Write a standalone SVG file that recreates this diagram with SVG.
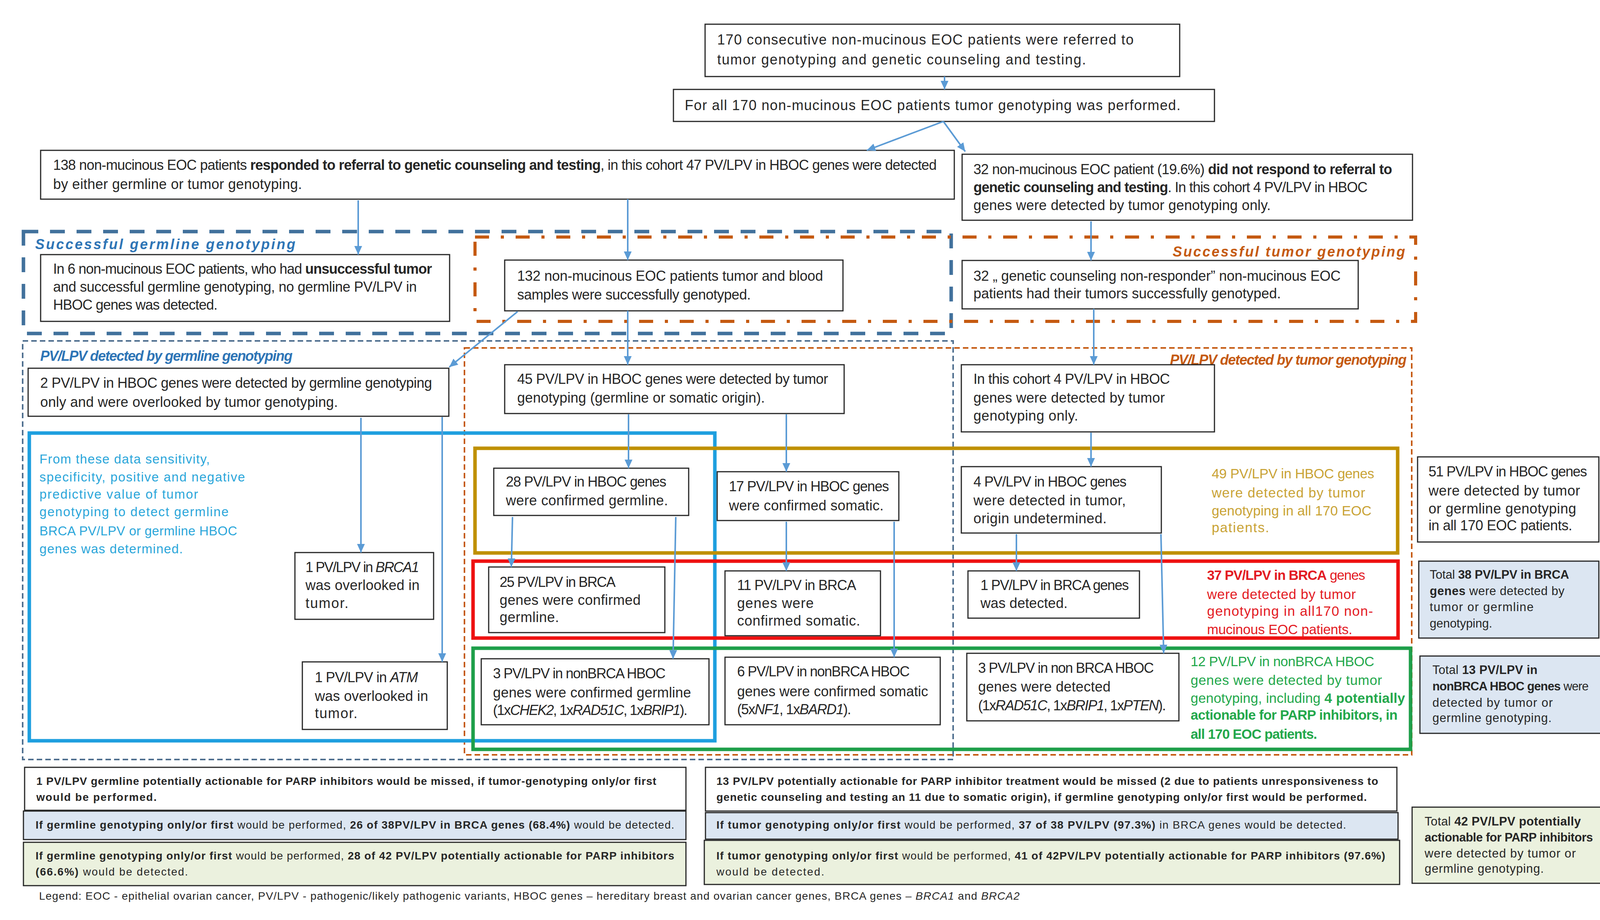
<svg xmlns="http://www.w3.org/2000/svg" width="4152" height="2356" viewBox="0 0 4152 2356">
<style>
text{font-family:"Liberation Sans",Arial,sans-serif;font-size:36px;fill:#262626}
.b{font-weight:bold}
.i{font-style:italic}
.s30{font-size:31px}
.s28{font-size:28px}
.box{fill:#fff;stroke:#262626;stroke-width:3}
.lb{fill:#DCE6F2;stroke:#262626;stroke-width:3}
.lg{fill:#EBF1DE;stroke:#262626;stroke-width:3}
.conn line{stroke:#5B9BD5;stroke-width:4;marker-end:url(#ah)}
.lblB{font-weight:bold;font-style:italic;fill:#2E75B6}
.lblO{font-weight:bold;font-style:italic;fill:#C55A11}
.cy{fill:#2AA6DA;font-size:33px}
.gd{fill:#C9A335;font-size:35px}
.rd{fill:#E31B23;font-size:35px}
.gr{fill:#23A84B;font-size:35px}
</style>
<defs>
<marker id="ah" markerUnits="userSpaceOnUse" markerWidth="24" markerHeight="20" refX="22" refY="10" orient="auto"><path d="M0,0 L22,10 L0,20 z" fill="#5B9BD5"/></marker>
</defs>
<rect width="4152" height="2356" fill="#fff"/>

<g id="regions">
<rect x="60" y="593" width="2375" height="261" fill="none" stroke="#41719C" stroke-width="9" stroke-dasharray="38 30"/>
<rect x="1216" y="607" width="2408" height="216" fill="none" stroke="#C55A11" stroke-width="8" stroke-dasharray="36 30 8 30"/>
<rect x="58" y="873" width="2382" height="1072" fill="none" stroke="#4F6F8F" stroke-width="4" stroke-dasharray="14 8"/>
<rect x="1189" y="891" width="2425" height="1042" fill="none" stroke="#C55A11" stroke-width="4" stroke-dasharray="14 8"/>
<text x="90" y="638" class="lblB" font-size="45" textLength="666">Successful germline genotyping</text>
<text x="3002" y="657" class="lblO" font-size="45" textLength="595">Successful tumor genotyping</text>
<text x="103" y="924" class="lblB" font-size="31" textLength="646">PV/LPV detected by germline genotyping</text>
<text x="2995" y="934" class="lblO" font-size="31" textLength="606">PV/LPV detected by tumor genotyping</text>
</g>

<g id="frames">
<rect x="75" y="1109" width="1755" height="788" fill="none" stroke="#1E9FDF" stroke-width="9"/>
<rect x="1216" y="1148" width="2362" height="268" fill="none" stroke="#BF9000" stroke-width="9"/>
<rect x="1211" y="1437" width="2368" height="197" fill="none" stroke="#EE1111" stroke-width="9"/>
<rect x="1211" y="1660" width="2400" height="259" fill="none" stroke="#1E9F4A" stroke-width="9"/>
<g id="cyanText">
<text x="101" y="1187" class="cy" textLength="436">From these data sensitivity,</text>
<text x="101" y="1233" class="cy" textLength="526">specificity, positive and negative</text>
<text x="101" y="1277" class="cy" textLength="406">predictive value of tumor</text>
<text x="101" y="1322" class="cy" textLength="484">genotyping to detect germline</text>
<text x="101" y="1371" class="cy" textLength="506">BRCA PV/LPV or germline HBOC</text>
<text x="101" y="1417" class="cy" textLength="367">genes was determined.</text>
</g>
<g id="goldText">
<text x="3102" y="1225" class="gd" textLength="416">49 PV/LPV in HBOC genes</text>
<text x="3102" y="1274" class="gd" textLength="393">were detected by tumor</text>
<text x="3102" y="1320" class="gd" textLength="409">genotyping in all 170 EOC</text>
<text x="3102" y="1363" class="gd" textLength="147">patients.</text>
</g>
<g id="redText">
<text x="3090" y="1485" class="rd" textLength="405"><tspan class="b">37 PV/LPV in BRCA</tspan> genes</text>
<text x="3090" y="1534" class="rd" textLength="381">were detected by tumor</text>
<text x="3090" y="1577" class="rd" textLength="425">genotyping in all170 non-</text>
<text x="3090" y="1624" class="rd" textLength="372">mucinous EOC patients.</text>
</g>
<g id="greenText">
<text x="3048" y="1706" class="gr" textLength="470">12 PV/LPV in nonBRCA HBOC</text>
<text x="3048" y="1754" class="gr" textLength="490">genes were detected by tumor</text>
<text x="3048" y="1800" class="gr" textLength="549">genotyping, including <tspan class="b">4 potentially</tspan></text>
<text x="3048" y="1843" class="gr b" textLength="530">actionable for PARP inhibitors, in</text>
<text x="3048" y="1892" class="gr b" textLength="324">all 170 EOC patients.</text>
</g>
</g>

<g id="nodeA"><rect class="box" x="1805" y="62" width="1215" height="134"/>
<text x="1836" y="114" textLength="1066">170 consecutive non-mucinous EOC patients were referred to</text>
<text x="1836" y="165" textLength="944">tumor genotyping and genetic counseling and testing.</text></g>

<g id="nodeB"><rect class="box" x="1724" y="229" width="1385" height="82"/>
<text x="1753" y="282" textLength="1269">For all 170 non-mucinous EOC patients tumor genotyping was performed.</text></g>

<g id="nodeC"><rect class="box" x="104" y="385" width="2339" height="125"/>
<text x="136" y="435" textLength="2262">138 non-mucinous EOC patients <tspan class="b">responded to referral to genetic counseling and testing</tspan>, in this cohort 47 PV/LPV in HBOC genes were detected</text>
<text x="136" y="484" textLength="637">by either germline or tumor genotyping.</text></g>

<g id="nodeD"><rect class="box" x="2463" y="395" width="1153" height="169"/>
<text x="2492" y="446" textLength="1072">32 non-mucinous EOC patient (19.6%) <tspan class="b">did not respond to referral to</tspan></text>
<text x="2492" y="492" textLength="1009"><tspan class="b">genetic counseling and testing</tspan>. In this cohort 4 PV/LPV in HBOC</text>
<text x="2492" y="538" textLength="761">genes were detected by tumor genotyping only.</text></g>

<g id="nodeE"><rect class="box" x="104" y="652" width="1047" height="171"/>
<text x="136" y="701" textLength="970">In 6 non-mucinous EOC patients, who had <tspan class="b">unsuccessful tumor</tspan></text>
<text x="136" y="747" textLength="931">and successful germline genotyping, no germline PV/LPV in</text>
<text x="136" y="793" textLength="421">HBOC genes was detected.</text></g>

<g id="nodeF"><rect class="box" x="1292" y="666" width="866" height="130"/>
<text x="1324" y="719" textLength="783">132 non-mucinous EOC patients tumor and blood</text>
<text x="1324" y="767" textLength="598">samples were successfully genotyped.</text></g>

<g id="nodeG"><rect class="box" x="2463" y="667" width="1014" height="124"/>
<text x="2492" y="719" textLength="940">32 „ genetic counseling non-responder” non-mucinous EOC</text>
<text x="2492" y="764" textLength="787">patients had their tumors successfully genotyped.</text></g>

<g id="nodeH"><rect class="box" x="72" y="943" width="1077" height="123"/>
<text x="103" y="993" textLength="1003">2 PV/LPV in HBOC genes were detected by germline genotyping</text>
<text x="103" y="1042" textLength="762">only and were overlooked by tumor genotyping.</text></g>

<g id="nodeI"><rect class="box" x="1292" y="934" width="869" height="125"/>
<text x="1324" y="983" textLength="796">45 PV/LPV in HBOC genes were detected by tumor</text>
<text x="1324" y="1031" textLength="634">genotyping (germline or somatic origin).</text></g>

<g id="nodeJ"><rect class="box" x="2461" y="934" width="648" height="172"/>
<text x="2492" y="983" textLength="503">In this cohort 4 PV/LPV in HBOC</text>
<text x="2492" y="1031" textLength="490">genes were detected by tumor</text>
<text x="2492" y="1077" textLength="268">genotyping only.</text></g>

<g id="nodeK"><rect class="box" x="1264" y="1199" width="499" height="121"/>
<text x="1295" y="1246" textLength="411">28 PV/LPV in HBOC genes</text>
<text x="1295" y="1294" textLength="415">were confirmed germline.</text></g>

<g id="nodeL"><rect class="box" x="1836" y="1208" width="465" height="125"/>
<text x="1866" y="1258" textLength="410">17 PV/LPV in HBOC genes</text>
<text x="1866" y="1307" textLength="396">were confirmed somatic.</text></g>

<g id="nodeM"><rect class="box" x="2461" y="1195" width="512" height="170"/>
<text x="2492" y="1246" textLength="392">4 PV/LPV in HBOC genes</text>
<text x="2492" y="1294" textLength="390">were detected in tumor,</text>
<text x="2492" y="1340" textLength="341">origin undetermined.</text></g>

<g id="nodeN"><rect class="box" x="755" y="1415" width="355" height="171"/>
<text x="782" y="1465" textLength="291">1 PV/LPV in <tspan class="i">BRCA1</tspan></text>
<text x="782" y="1511" textLength="292">was overlooked in</text>
<text x="782" y="1557" textLength="110">tumor.</text></g>

<g id="nodeO"><rect class="box" x="774" y="1695" width="371" height="173"/>
<text x="806" y="1747" textLength="264">1 PV/LPV in <tspan class="i">ATM</tspan></text>
<text x="806" y="1795" textLength="290">was overlooked in</text>
<text x="806" y="1839" textLength="109">tumor.</text></g>

<g id="nodeP"><rect class="box" x="1251" y="1452" width="451" height="168"/>
<text x="1279" y="1503" textLength="297">25 PV/LPV in BRCA</text>
<text x="1279" y="1549" textLength="361">genes were confirmed</text>
<text x="1279" y="1593" textLength="152">germline.</text></g>

<g id="nodeQ"><rect class="box" x="1856" y="1462" width="398" height="166"/>
<text x="1887" y="1511" textLength="305">11 PV/LPV in BRCA</text>
<text x="1887" y="1557" textLength="196">genes were</text>
<text x="1887" y="1602" textLength="315">confirmed somatic.</text></g>

<g id="nodeR"><rect class="box" x="2478" y="1462" width="439" height="121"/>
<text x="2510" y="1511" textLength="380">1 PV/LPV in BRCA genes</text>
<text x="2510" y="1557" textLength="223">was detected.</text></g>

<g id="nodeS"><rect class="box" x="1232" y="1687" width="583" height="169"/>
<text x="1262" y="1737" textLength="442">3 PV/LPV in nonBRCA HBOC</text>
<text x="1262" y="1786" textLength="507">genes were confirmed germline</text>
<text x="1262" y="1831" textLength="498">(1x<tspan class="i">CHEK2</tspan>, 1x<tspan class="i">RAD51C</tspan>, 1x<tspan class="i">BRIP1</tspan>).</text></g>

<g id="nodeT"><rect class="box" x="1856" y="1683" width="551" height="173"/>
<text x="1887" y="1732" textLength="442">6 PV/LPV in nonBRCA HBOC</text>
<text x="1887" y="1783" textLength="489">genes were confirmed somatic</text>
<text x="1887" y="1829" textLength="292">(5x<tspan class="i">NF1</tspan>, 1x<tspan class="i">BARD1</tspan>).</text></g>

<g id="nodeU"><rect class="box" x="2475" y="1673" width="543" height="173"/>
<text x="2504" y="1723" textLength="450">3 PV/LPV in non BRCA HBOC</text>
<text x="2504" y="1771" textLength="339">genes were detected</text>
<text x="2504" y="1819" textLength="481">(1x<tspan class="i">RAD51C</tspan>, 1x<tspan class="i">BRIP1</tspan>, 1x<tspan class="i">PTEN</tspan>).</text></g>

<g id="nodeV"><rect class="box" x="3629" y="1170" width="464" height="218"/>
<text x="3657" y="1220" textLength="406">51 PV/LPV in HBOC genes</text>
<text x="3657" y="1269" textLength="388">were detected by tumor</text>
<text x="3657" y="1315" textLength="378">or germline genotyping</text>
<text x="3657" y="1358" textLength="368">in all 170 EOC patients.</text></g>

<g id="nodeW"><rect class="lb" x="3632" y="1437" width="461" height="197"/>
<text x="3660" y="1482" class="s30" textLength="357">Total <tspan class="b">38 PV/LPV in BRCA</tspan></text>
<text x="3660" y="1524" class="s30" textLength="345"><tspan class="b">genes</tspan> were detected by</text>
<text x="3660" y="1565" class="s30" textLength="266">tumor or germline</text>
<text x="3660" y="1607" class="s30" textLength="160">genotyping.</text></g>

<g id="nodeX"><rect class="lb" x="3635" y="1680" width="465" height="198"/>
<text x="3667" y="1726" class="s30" textLength="269">Total <tspan class="b">13 PV/LPV in</tspan></text>
<text x="3667" y="1768" class="s30" textLength="400"><tspan class="b">nonBRCA HBOC genes</tspan> were</text>
<text x="3667" y="1810" class="s30" textLength="308">detected by tumor or</text>
<text x="3667" y="1849" class="s30" textLength="305">germline genotyping.</text></g>

<g id="nodeY"><rect class="lg" x="3615" y="2067" width="494" height="195"/>
<text x="3647" y="2114" class="s30" textLength="400">Total <tspan class="b">42 PV/LPV potentially</tspan></text>
<text x="3647" y="2155" class="s30 b" textLength="431">actionable for PARP inhibitors</text>
<text x="3647" y="2196" class="s30" textLength="387">were detected by tumor or</text>
<text x="3647" y="2235" class="s30" textLength="305">germline genotyping.</text></g>

<g id="nodeZ1"><rect class="box" x="63" y="1965" width="1693" height="110"/>
<text x="93" y="2010" class="s28 b" textLength="1587">1 PV/LPV germline potentially actionable for PARP inhibitors would be missed, if tumor-genotyping only/or first</text>
<text x="93" y="2051" class="s28 b" textLength="308">would be performed.</text></g>

<g id="nodeZ2"><rect class="lb" x="60" y="2077" width="1696" height="73" stroke-width="4"/>
<text x="91" y="2122" class="s28" textLength="1635"><tspan class="b">If germline genotyping only/or first</tspan> would be performed, <tspan class="b">26 of 38PV/LPV in BRCA genes (68.4%)</tspan> would be detected.</text></g>

<g id="nodeZ3"><rect class="lg" x="60" y="2157" width="1696" height="111"/>
<text x="91" y="2201" class="s28" textLength="1635"><tspan class="b">If germline genotyping only/or first</tspan> would be performed, <tspan class="b">28 of 42 PV/LPV potentially actionable for PARP inhibitors</tspan></text>
<text x="91" y="2242" class="s28" textLength="390"><tspan class="b">(66.6%)</tspan> would be detected.</text></g>

<g id="nodeZ4"><rect class="box" x="1806" y="1965" width="1770" height="112"/>
<text x="1834" y="2010" class="s28 b" textLength="1694">13 PV/LPV potentially actionable for PARP inhibitor treatment would be missed (2 due to patients unresponsiveness to</text>
<text x="1834" y="2051" class="s28 b" textLength="1665">genetic counseling and testing an 11 due to somatic origin), if germline genotyping only/or first would be performed.</text></g>

<g id="nodeZ5"><rect class="lb" x="1806" y="2081" width="1773" height="68"/>
<text x="1834" y="2122" class="s28" textLength="1612"><tspan class="b">If tumor genotyping only/or first</tspan> would be performed, <tspan class="b">37 of 38 PV/LPV (97.3%)</tspan> in BRCA genes would be detected.</text></g>

<g id="nodeZ6"><rect class="lg" x="1803" y="2152" width="1780" height="113"/>
<text x="1834" y="2201" class="s28" textLength="1712"><tspan class="b">If tumor genotyping only/or first</tspan> would be performed, <tspan class="b">41 of 42PV/LPV potentially actionable for PARP inhibitors (97.6%)</tspan></text>
<text x="1834" y="2242" class="s28" textLength="276">would be detected.</text></g>

<g id="legend">
<text x="100" y="2304" class="s28" textLength="2510">Legend: EOC - epithelial ovarian cancer, PV/LPV - pathogenic/likely pathogenic variants, HBOC genes – hereditary breast and ovarian cancer genes, BRCA genes – <tspan class="i">BRCA1</tspan> and <tspan class="i">BRCA2</tspan></text>
</g>

<g id="connectors" class="conn">
<line x1="2418" y1="196" x2="2418" y2="229"/>
<line x1="2415" y1="311" x2="2219" y2="385"/>
<line x1="2415" y1="311" x2="2471" y2="388"/>
<line x1="917" y1="513" x2="917" y2="652"/>
<line x1="1607" y1="510" x2="1607" y2="666"/>
<line x1="2793" y1="567" x2="2793" y2="667"/>
<line x1="1325" y1="798" x2="1150" y2="940"/>
<line x1="1607" y1="796" x2="1607" y2="934"/>
<line x1="2800" y1="791" x2="2800" y2="934"/>
<line x1="1609" y1="1061" x2="1609" y2="1199"/>
<line x1="2013" y1="1061" x2="2013" y2="1208"/>
<line x1="2793" y1="1108" x2="2793" y2="1195"/>
<line x1="924" y1="1070" x2="924" y2="1415"/>
<line x1="1132" y1="1068" x2="1132" y2="1695"/>
<line x1="1312" y1="1324" x2="1309" y2="1452"/>
<line x1="1730" y1="1324" x2="1723" y2="1687"/>
<line x1="2013" y1="1336" x2="2013" y2="1462"/>
<line x1="2289" y1="1336" x2="2289" y2="1683"/>
<line x1="2602" y1="1368" x2="2602" y2="1462"/>
<line x1="2972" y1="1368" x2="2979" y2="1673"/>
</g>
</svg>
